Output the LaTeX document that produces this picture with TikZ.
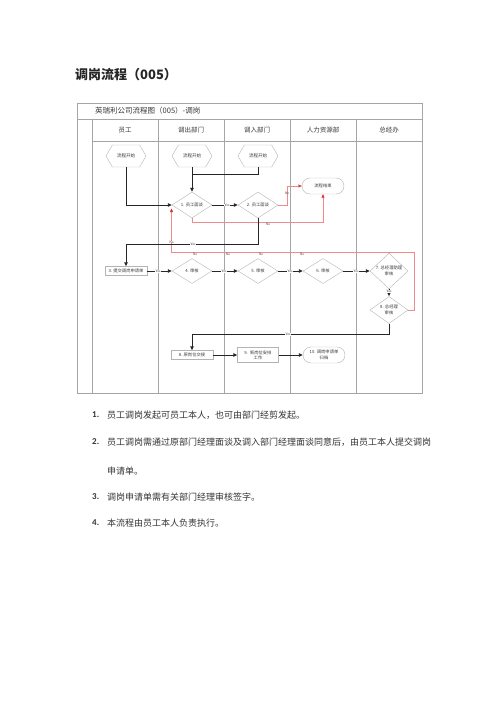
\documentclass[tikz,border=0pt]{standalone}
\usepackage{fontspec}
\setmainfont{Liberation Serif}
\newfontfamily\cjk{Noto Sans CJK SC}
\newfontfamily\numf{Carlito}
\usetikzlibrary{shapes.geometric,shapes.symbols,shapes.misc,arrows.meta}
\definecolor{gridc}{RGB}{165,165,165}
\definecolor{shapec}{RGB}{180,180,180}
\definecolor{redc}{RGB}{225,45,45}
\definecolor{redl}{RGB}{238,140,140}
\definecolor{textc}{RGB}{55,55,55}
\begin{document}
\begin{tikzpicture}[x=1pt,y=-1pt,
  grid/.style={draw=gridc,line width=0.5pt},
  hexa/.style={signal, signal to=east and west, signal pointer angle=120, draw=shapec, line width=0.4pt,
    minimum width=40pt, minimum height=22pt, inner sep=0pt, font=\cjk\fontsize{4.5}{5.5}\selectfont, text=textc},
  dia/.style={diamond, draw=shapec, line width=0.4pt, minimum width=40pt, minimum height=25pt, inner sep=0pt,
    align=center, font=\cjk\fontsize{4.3}{5.3}\selectfont, text=textc},
  boxn/.style={rectangle, draw=shapec, line width=0.4pt, minimum width=42pt, minimum height=9pt, inner sep=0.5pt,
    align=center, font=\cjk\fontsize{4.3}{5.3}\selectfont, text=textc},
  term/.style={rounded rectangle, draw=shapec, line width=0.4pt, minimum width=43pt, minimum height=16pt, inner sep=0.5pt,
    align=center, font=\cjk\fontsize{4.3}{5.3}\selectfont, text=textc},
  lab/.style={font=\fontsize{3.6}{4}\selectfont, text=textc, fill=white, inner sep=0.3pt},
  rlab/.style={font=\fontsize{3.6}{4}\selectfont, text=textc, inner sep=0.3pt},
  blk/.style={draw=black!85, line width=0.9pt, -{Triangle[length=4pt,width=3.6pt]}},
  blkn/.style={draw=black!85, line width=0.9pt},
  rd/.style={draw=redl, line width=0.4pt, -{Triangle[length=3.5pt,width=3pt,color=redc,fill=redc]}},
  hdr/.style={font=\cjk\fontsize{6.5}{7.5}\selectfont, text=textc},
  lst/.style={font=\cjk\fontsize{9}{10}\selectfont, text=black!80, anchor=west, inner sep=0pt},
  num/.style={font=\numf\bfseries\fontsize{9}{10}\selectfont, text=black!80, anchor=west, inner sep=0pt}
]
\useasboundingbox (0,0) rectangle (500,707);

% heading
\node[anchor=west, inner sep=0pt, font=\cjk\bfseries\fontsize{13}{15}\selectfont, text=black!85] (head) at (75,75) {调岗流程（005）};

% frame and lanes
\draw[grid] (77,103) rectangle (422,393);
\draw[grid] (77,119) -- (422,119);
\draw[grid] (92,141) -- (422,141);
\draw[grid] (92,119) -- (92,393);
\foreach \xx in {158,224,290,356} { \draw[grid] (\xx,119) -- (\xx,393); }
\node[anchor=west, inner sep=0pt, font=\cjk\fontsize{7.5}{8.5}\selectfont, text=textc] (ftitle) at (95,111) {英瑞利公司流程图（005）-调岗};
\node[hdr] (h1) at (125,130) {员工};
\node[hdr] (h2) at (191,130) {调出部门};
\node[hdr] (h3) at (257,130) {调入部门};
\node[hdr] (h4) at (323,130) {人力资源部};
\node[hdr] (h5) at (389,130) {总经办};

% nodes
\node[hexa] (sA) at (126,156) {流程开始};
\node[hexa] (sB) at (192,156) {流程开始};
\node[hexa] (sC) at (258,156) {流程开始};
\node[dia] (d1) at (192,205) {1. 员工面谈};
\node[dia] (d2) at (258,205) {2. 员工面谈};
\node[term] (e1) at (323,186) {流程结束};
\node[boxn] (b3) at (126,271) {3. 提交调岗申请单};
\node[dia] (d4) at (192,271) {4. 审核};
\node[dia] (d5) at (258,271) {5. 审核};
\node[dia] (d6) at (323,271) {6. 审核};
\node[dia, minimum width=38pt] (d7) at (389,271) {7. 总经理助理\\审核};
\node[dia, minimum width=38pt] (d8) at (389,310) {8. 总经理\\审核};
\node[boxn] (b8) at (192,355) {8. 原岗位交接};
\node[boxn, minimum width=41pt, minimum height=15pt] (b9) at (258,355) {9.\ \ 新岗位安排\\工作};
\node[term] (t10) at (324,355) {10. 调岗申请单\\归档};

\coordinate (j1) at (192,174);
\coordinate (rin) at (171.5,208.5);

% red connectors
\draw[rd] (d2.east) -- (287,205) -- (287,186) -- (e1.west);
\draw[rd] (d1.south) -- (192,222) -- (323,222) -- (e1.south);
\draw[rd] (d8.east) -- (414,310) -- (414,252) -- (171.5,252) -- (rin);

% black connectors
\draw[blk] (sA.south) |- (d1.west);
\draw[blkn] (sC.south) |- (j1);
\draw[blk] (sB.south) -- (d1.north);
\draw[blk] (d1.east) -- (d2.west);
\draw[blk] (d2.south) -- (258,244) -- (126,244) -- (b3.north);
\draw[blk] (b3.east) -- (d4.west);
\draw[blk] (d4.east) -- (d5.west);
\draw[blk] (d5.east) -- (d6.west);
\draw[blk] (d6.east) -- (d7.west);
\draw[blk] (d7.south) -- (d8.north);
\draw[blk] (d8.south) -- (389,334) -- (192,334) -- (b8.north);
\draw[blk] (b8.east) -- (b9.west);
\draw[blk] (b9.east) -- (t10.west);

% labels
\node[lab] (y1) at (227,205) {Yes};
\node[rlab] (n1) at (287,193) {No};
\node[rlab] (n2) at (268,224.5) {No};
\node[lab] (n3) at (171.5,242) {No};
\node[lab] (y2) at (193,244) {Yes};
\node[rlab] (n4) at (195,254.5) {No};
\node[rlab] (n5) at (228,254.5) {No};
\node[rlab] (n6) at (261,254.5) {No};
\node[rlab] (n7) at (302,254.5) {No};
\node[lab] (y3) at (158,271) {Yes};
\node[lab] (y4) at (224,271) {Yes};
\node[lab] (y5) at (290,271) {Yes};
\node[lab] (y6) at (356,271) {Yes};
\node[lab] (y7) at (389,291) {Yes};
\node[lab] (y8) at (288,334) {Yes};

% notes
\node[num] (m1) at (92,415) {1.};
\node[lst] (l1) at (107,415) {员工调岗发起可员工本人，也可由部门经剪发起。};
\node[num] (m2) at (92,442) {2.};
\node[lst] (l2) at (107,442) {员工调岗需通过原部门经理面谈及调入部门经理面谈同意后，由员工本人提交调岗};
\node[lst] (l2b) at (107,471) {申请单。};
\node[num] (m3) at (92,497) {3.};
\node[lst] (l3) at (107,497) {调岗申请单需有关部门经理审核签字。};
\node[num] (m4) at (92,523) {4.};
\node[lst] (l4) at (107,523) {本流程由员工本人负责执行。};
\end{tikzpicture}
\end{document}
